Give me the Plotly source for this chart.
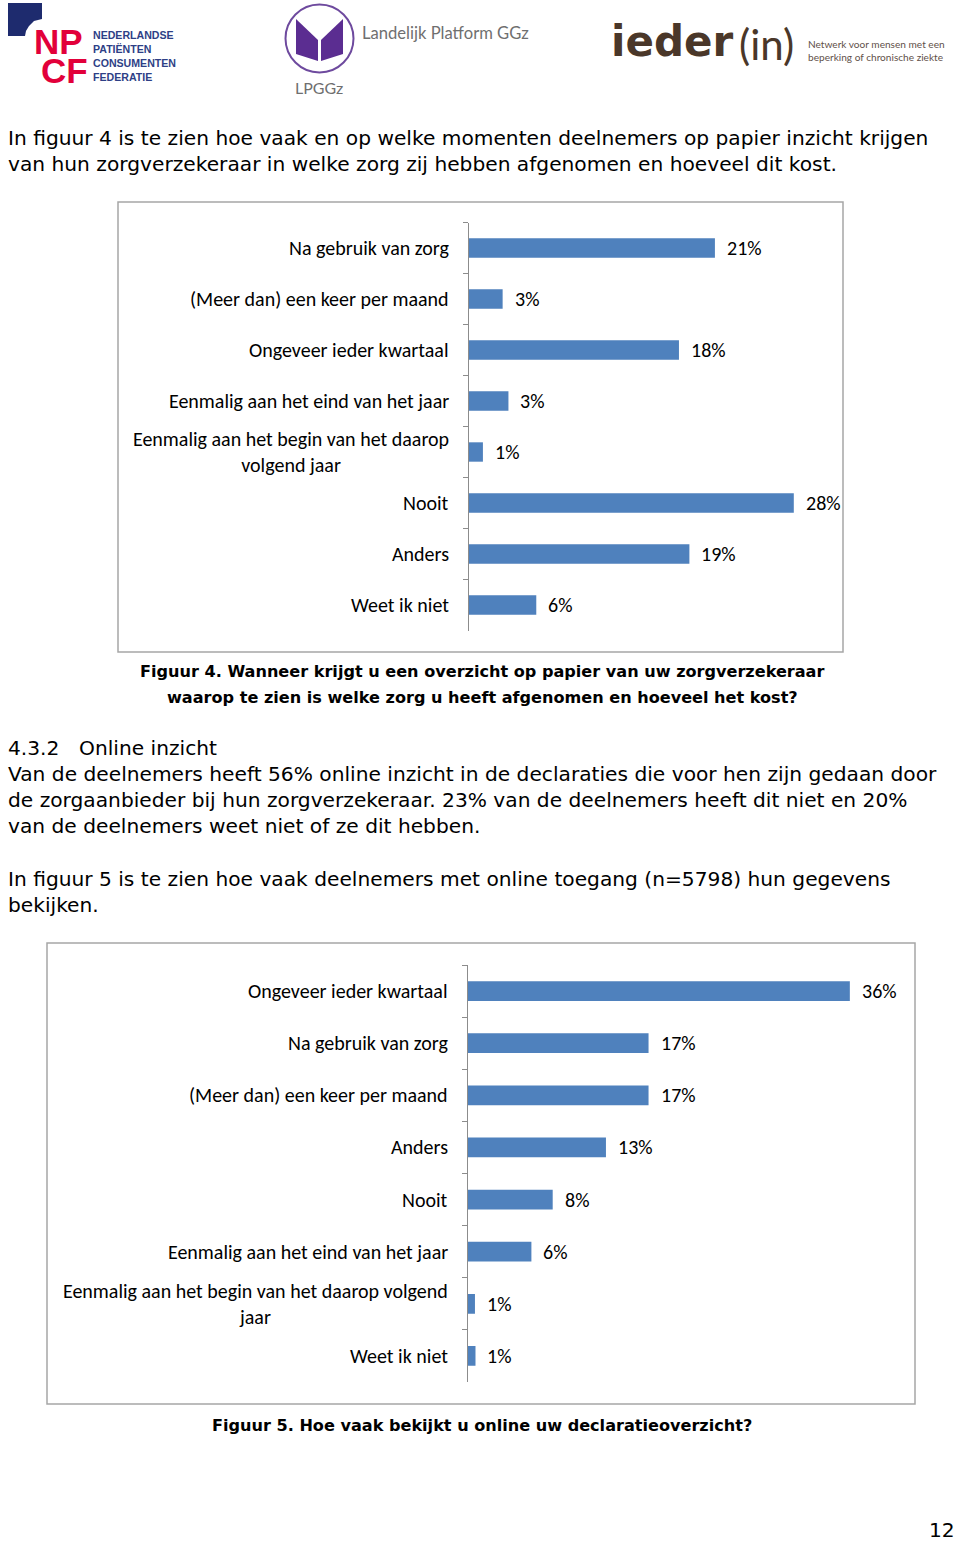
import plotly.graph_objects as go

W, H = 960, 1544

# ---------------- data ----------------
fig4_categories = [
    "Na gebruik van zorg",
    "(Meer dan) een keer per maand",
    "Ongeveer ieder kwartaal",
    "Eenmalig aan het eind van het jaar",
    "Eenmalig aan het begin van het daarop<br>volgend jaar",
    "Nooit",
    "Anders",
    "Weet ik niet",
]
fig4_values = [21.2, 2.9, 18.1, 3.4, 1.2, 28.0, 19.0, 5.8]

fig5_categories = [
    "Ongeveer ieder kwartaal",
    "Na gebruik van zorg",
    "(Meer dan) een keer per maand",
    "Anders",
    "Nooit",
    "Eenmalig aan het eind van het jaar",
    "Eenmalig aan het begin van het daarop volgend<br>jaar",
    "Weet ik niet",
]
fig5_values = [35.9, 17.0, 17.0, 13.0, 8.0, 6.0, 0.7, 0.75]

para1 = [
    "In figuur 4 is te zien hoe vaak en op welke momenten deelnemers op papier inzicht krijgen",
    "van hun zorgverzekeraar in welke zorg zij hebben afgenomen en hoeveel dit kost.",
]
caption4 = [
    "Figuur 4. Wanneer krijgt u een overzicht op papier van uw zorgverzekeraar",
    "waarop te zien is welke zorg u heeft afgenomen en hoeveel het kost?",
]
section_num = "4.3.2"
section_title = "Online inzicht"
para2 = [
    "Van de deelnemers heeft 56% online inzicht in de declaraties die voor hen zijn gedaan door",
    "de zorgaanbieder bij hun zorgverzekeraar. 23% van de deelnemers heeft dit niet en 20%",
    "van de deelnemers weet niet of ze dit hebben.",
]
para3 = [
    "In figuur 5 is te zien hoe vaak deelnemers met online toegang (n=5798) hun gegevens",
    "bekijken.",
]
caption5 = "Figuur 5. Hoe vaak bekijkt u online uw declaratieoverzicht?"
page_number = "12"

# ---------------- helpers ----------------
def px(x):
    return x / W

def py(y):
    return 1 - y / H

BODY = "Verdana, DejaVu Sans, sans-serif"
CHART = "Carlito, Calibri, Lato, sans-serif"
BAR_COLOR = "#4F81BD"
AXIS_COLOR = "#8c8c8c"
BODY_SIZE = 20.2
CHART_SIZE = 20

fig = go.Figure()

fig.add_trace(go.Bar(
    x=fig4_values, y=fig4_categories, orientation="h",
    xaxis="x", yaxis="y", marker=dict(color=BAR_COLOR, line=dict(width=0)),
    width=0.38, hoverinfo="skip",
))
fig.add_trace(go.Bar(
    x=fig5_values, y=fig5_categories, orientation="h",
    xaxis="x2", yaxis="y2", marker=dict(color=BAR_COLOR, line=dict(width=0)),
    width=0.38, hoverinfo="skip",
))

annotations = []

def txt(x, y, text, size, family=BODY, color="#000000", xanchor="left", bold=False, yanchor="middle"):
    if bold:
        text = "<b>" + text + "</b>"
    annotations.append(dict(
        x=px(x), y=py(y), xref="paper", yref="paper", text=text, showarrow=False,
        xanchor=xanchor, yanchor=yanchor, font=dict(family=family, size=size, color=color),
    ))

# chart category labels and value labels
for cats, vals, xa, ya, lab_x in [
    (fig4_categories, fig4_values, "x", "y", 451),
    (fig5_categories, fig5_values, "x2", "y2", 450),
]:
    for c, v in zip(cats, vals):
        annotations.append(dict(
            x=px(lab_x), y=c, xref="paper", yref=ya, text=c, showarrow=False,
            xanchor="right", yanchor="middle", align="center",
            font=dict(family=CHART, size=CHART_SIZE, color="#000000"),
        ))
        annotations.append(dict(
            x=v, y=c, xref=xa, yref=ya, text=f"{round(v)}%", showarrow=False,
            xanchor="left", yanchor="middle", xshift=10,
            font=dict(family=CHART, size=CHART_SIZE, color="#000000"),
        ))

# body text
TX = 6
for i, line in enumerate(para1):
    txt(TX, 138 + 26 * i, line, BODY_SIZE)
for i, line in enumerate(caption4):
    txt(482, 671 + 26 * i, line, 16.1, xanchor="center", bold=True)
txt(TX, 748, section_num, BODY_SIZE)
txt(77, 748, section_title, BODY_SIZE)
for i, line in enumerate(para2):
    txt(TX, 774 + 26 * i, line, BODY_SIZE)
for i, line in enumerate(para3):
    txt(TX, 879 + 26 * i, line, BODY_SIZE)
txt(482, 1425, caption5, 16.1, xanchor="center", bold=True)
txt(957, 1530, page_number, BODY_SIZE, xanchor="right")

# ---------------- logos ----------------
def path(points, close=True):
    s = "M " + " L ".join(f"{px(x):.5f},{py(y):.5f}" for x, y in points)
    return s + (" Z" if close else "")

shapes = []
# NPCF navy corner
shapes.append(dict(type="path", xref="paper", yref="paper",
                   path=path([(8, 3), (42, 3), (42, 19), (34, 21), (29, 26), (26, 31), (25, 36), (8, 36)]),
                   fillcolor="#1E2B6E", line=dict(width=0)))
txt(58, 42, "NP", 35, family="Liberation Sans, Arial, sans-serif", color="#E2003A", xanchor="center", bold=True)
txt(64, 70, "CF", 35, family="Liberation Sans, Arial, sans-serif", color="#E2003A", xanchor="center", bold=True)
for i, w in enumerate(["NEDERLANDSE", "PATIËNTEN", "CONSUMENTEN", "FEDERATIE"]):
    txt(91, 35 + 14 * i, w, 10.6, family="Liberation Sans, Arial, sans-serif", color="#2E3F86", bold=True)

# LPGGz
shapes.append(dict(type="circle", xref="paper", yref="paper",
                   x0=px(285.5), x1=px(353.5), y0=py(72.5), y1=py(4.5),
                   line=dict(color="#6E4A9E", width=2), fillcolor="rgba(0,0,0,0)"))
shapes.append(dict(type="path", xref="paper", yref="paper",
                   path=path([(296, 19), (318, 40), (318, 61), (296, 54)]),
                   fillcolor="#5B2D91", line=dict(width=0)))
shapes.append(dict(type="path", xref="paper", yref="paper",
                   path=path([(343, 19), (321, 40), (321, 61), (343, 54)]),
                   fillcolor="#5B2D91", line=dict(width=0)))
txt(360, 33, "Landelijk Platform GGz", 16.6, family="Lato, sans-serif", color="#6f6f6f")
txt(319, 88, "LPGGz", 16, family="Lato, sans-serif", color="#6f6f6f", xanchor="center")

# ieder(in)
txt(609, 42, "ieder", 42, family="DejaVu Sans, sans-serif", color="#4A3729", bold=True)
txt(737, 44, "(in)", 42, family="Lato, sans-serif", color="#4A3729")
txt(806, 44, "Netwerk voor mensen met een", 10.1, family="Lato, sans-serif", color="#5f5049")
txt(806, 57, "beperking of chronische ziekte", 10.1, family="Lato, sans-serif", color="#5f5049")

# chart frames
shapes.append(dict(type="rect", xref="paper", yref="paper",
                   x0=px(118), x1=px(843), y0=py(652), y1=py(202),
                   line=dict(color="#a6a6a6", width=1.5), fillcolor="rgba(0,0,0,0)", layer="below"))
shapes.append(dict(type="rect", xref="paper", yref="paper",
                   x0=px(47), x1=px(915), y0=py(1404), y1=py(943),
                   line=dict(color="#a6a6a6", width=1.5), fillcolor="rgba(0,0,0,0)", layer="below"))

yaxis_common = dict(
    type="category", autorange="reversed", showline=True, linecolor=AXIS_COLOR, linewidth=1,
    ticks="outside", ticklen=5, tickcolor=AXIS_COLOR, tickwidth=1, tickson="boundaries",
    showticklabels=False, showgrid=False, zeroline=False, fixedrange=True,
)
xaxis_common = dict(visible=False, showgrid=False, zeroline=False, fixedrange=True)

fig.update_layout(
    width=W, height=H,
    margin=dict(l=0, r=0, t=0, b=0),
    paper_bgcolor="white", plot_bgcolor="rgba(0,0,0,0)",
    showlegend=False,
    xaxis=dict(domain=[px(469), px(843)], range=[0, 374 / 11.6], anchor="y", **xaxis_common),
    yaxis=dict(domain=[py(630.5), py(222.5)], anchor="x",
               categoryorder="array", categoryarray=fig4_categories, **yaxis_common),
    xaxis2=dict(domain=[px(467.5), px(915)], range=[0, 447.5 / 10.65], anchor="y2", **xaxis_common),
    yaxis2=dict(domain=[py(1382), py(965)], anchor="x2",
                categoryorder="array", categoryarray=fig5_categories, **yaxis_common),
    annotations=annotations,
    shapes=shapes,
)

fig.write_html(
    "out.html",
    config={"displayModeBar": False},
    post_script="document.body.style.margin='0';document.body.style.overflow='hidden';",
)
